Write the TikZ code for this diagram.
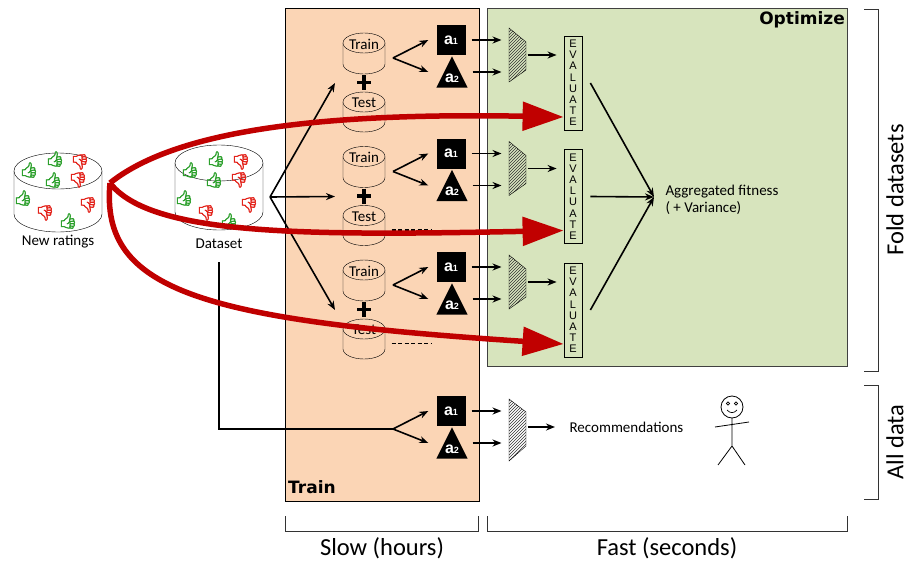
\documentclass[tikz,border=0pt]{standalone}
\usepackage{fontspec}
\setmainfont{Carlito}
\newfontfamily\arialfont{Liberation Sans}
\newfontfamily\heavyfont{DejaVu Sans}
\newfontfamily\emojifont{Noto Emoji}[FakeBold=3]
\usetikzlibrary{arrows.meta, patterns, calc}

\definecolor{trainbg}{HTML}{FBD5B5}
\definecolor{optbg}{HTML}{D7E4BD}
\definecolor{foldred}{HTML}{C00000}
\definecolor{likegreen}{HTML}{2CA02C}
\definecolor{dislikered}{HTML}{E3231B}

\newcommand{\likeicon}{{\emojifont\char"1F44D}}
\newcommand{\dislikeicon}{{\emojifont\char"1F44E}}
\newcommand{\algo}[1]{{\arialfont\bfseries\fontsize{16}{16}\selectfont a\fontsize{9}{9}\selectfont#1}}

% database drum: [fill]{cx}{y of top ellipse}{rx}{ry}{body height}
\newcommand{\drum}[6][white]{%
  \filldraw[fill=#1] ({#2-#4},#3) -- ++(0,#6)
    arc[start angle=180, end angle=360, x radius=#4pt, y radius=#5pt] -- ({#2+#4},#3);
  \filldraw[fill=#1] (#2,#3) ellipse[x radius=#4pt, y radius=#5pt];
}

\tikzset{
  arr/.style={-{Stealth[length=9pt,width=7pt]}, line width=1.6pt},
  foldarrow/.style={draw=foldred, line width=5.5pt, -{Triangle[length=41pt,width=28pt]}},
  algo box/.style={fill=black, text=white, minimum width=29pt, minimum height=30pt, inner sep=0pt},
  algo tri/.style={minimum width=31pt, minimum height=31pt, inner sep=0pt},
  algo text/.style={text=white, inner sep=0pt},
  mixer/.style={draw, pattern=north east lines, pattern color=black!80},
  evalbox/.style={draw, line width=0.8pt, minimum width=18pt, minimum height=94pt,
    inner sep=1pt, align=center, font=\arialfont\fontsize{11}{11.2}\selectfont},
  heading/.style={font=\heavyfont\bfseries\fontsize{17}{18}\selectfont, inner sep=1pt},
  bigtext/.style={font=\fontsize{24.5}{27}\selectfont, inner sep=0pt},
  bracket/.style={draw=black!80, line width=0.9pt},
  likes/.style={text=likegreen, inner sep=0pt, font=\fontsize{15}{15}\selectfont},
  dislikes/.style={text=dislikered, inner sep=0pt, font=\fontsize{15}{15}\selectfont},
  dashline/.style={line width=1.6pt, dash pattern=on 4pt off 2.5pt}
}

\begin{document}
\begin{tikzpicture}[x=1pt, y=-1pt, font=\fontsize{15}{17}\selectfont]
    \useasboundingbox (0,0) rectangle (908,562);

    % Train and Optimize panels
    \draw[fill=trainbg] (285,8) rectangle (479,501);
    \draw[fill=optbg, draw=black!75] (487,8) rectangle (847,366);
    \node[heading, anchor=south west] (trainhd) at (287,495) {Train};
    \node[heading, anchor=north east] (opthd) at (846,10) {Optimize};

    % Input drums with ratings
    \drum{58}{171}{44}{18}{43}
    \drum{219}{163}{44}{18}{49}
    \node (newr) at (58,242) {New ratings};
    \node (dset) at (219,244) {Dataset};
    \foreach \dx/\dy [count=\k] in {-29/170, -3/159, -5/180, -35/198, 10/221} {
        \node[likes] (nr-up\k) at ({58+(\dx)},\dy) {\likeicon};
        \node[likes] (ds-up\k) at ({219+(\dx)},\dy) {\likeicon};
    }
    \foreach \dx/\dy [count=\k] in {22/162, 20/180, -13/213, 30/205} {
        \node[dislikes] (nr-down\k) at ({58+(\dx)},\dy) {\dislikeicon};
        \node[dislikes] (ds-down\k) at ({219+(\dx)},\dy) {\dislikeicon};
    }

    \coordinate (split) at (270,197);
    \coordinate (src) at (110,183);
    \coordinate (agg) at (654,197);

    % One row per fold: train/test split, two algorithms, mixer, evaluation
    \foreach \i/\y in {1/0, 2/113.5, 3/227} {
        \drum[trainbg]{364}{43+\y}{21}{10}{21}
        \drum[trainbg]{364}{102+\y}{21}{10}{20}
        \node (train\i) at (364,44+\y) {Train};
        \node (test\i) at (364,103+\y) {Test};
        \draw[line width=3.5pt] (357,82.5+\y) -- (371,82.5+\y) (364,75+\y) -- (364,90+\y);

        \coordinate (in\i) at (335,83+\y);
        \draw[arr] (split) -- (in\i);

        \coordinate (fork\i) at (393,58+\y);
        \node[algo box] (a1-\i) at (451,40+\y) {\algo{1}};
        \node[algo tri] (a2-\i) at (452,72+\y) {};
        \fill (a2-\i.north) -- (a2-\i.south east) -- (a2-\i.south west) -- cycle;
        \node[algo text] (a2t-\i) at (452,78+\y) {\algo{2}};
        \draw[arr] (fork\i) -- ([xshift=-8pt]a1-\i.west);
        \draw[arr] (fork\i) -- ([xshift=-8pt]a2-\i.west);

        \coordinate (mix\i) at (517.5,55+\y);
        \draw[mixer] ($(mix\i)+(-8.5,-27)$) -- ++(17,14) -- ++(0,28) -- ++(-17,12) -- cycle;
        \node[evalbox] (ev\i) at (573,83+\y) {E\\V\\A\\L\\U\\A\\T\\E};

        \draw[arr] ([xshift=6pt]a1-\i.east) -- ([xshift=-16pt]a1-\i.east -| mix\i);
        \draw[arr] ([xshift=5pt]a2-\i.east) -- ([xshift=-16pt]a2-\i.east -| mix\i);
        \draw[arr] ([xshift=10pt]mix\i) -- ([xshift=-7pt]ev\i.west |- mix\i);
        \draw[arr] ([xshift=8pt]ev\i.east) -- (agg);
    }

    % Test sets left unused in the last folds
    \foreach \i in {2,3}
        \draw[dashline] ([shift={(12pt,-13.5pt)}]test\i.east) -- ++(40,0);

    \node[anchor=west, align=left] (fit) at (662,200) {Aggregated fitness\\( + Variance)};

    % Full data: train once, recommend
    \coordinate (allfork) at (393,429);
    \draw[line width=1.5pt] ([yshift=-10pt]dset.south) |- (allfork);
    \node[algo box] (a1-all) at (451,411) {\algo{1}};
    \node[algo tri] (a2-all) at (452,443) {};
    \fill (a2-all.north) -- (a2-all.south east) -- (a2-all.south west) -- cycle;
    \node[algo text] (a2t-all) at (452,449) {\algo{2}};
    \draw[arr] (allfork) -- ([xshift=-8pt]a1-all.west);
    \draw[arr] (allfork) -- ([xshift=-8pt]a2-all.west);
    \coordinate (mixall) at (517.5,427);
    \draw[mixer] ($(mixall)+(-8.5,-28)$) -- ++(17,13) -- ++(0,34) -- ++(-17,15) -- cycle;
    \draw[arr] ([xshift=6pt]a1-all.east) -- ([xshift=-16pt]a1-all.east -| mixall);
    \draw[arr] ([xshift=5pt]a2-all.east) -- ([xshift=-16pt]a2-all.east -| mixall);
    \node[anchor=west] (rec) at (566,427) {Recommendations};
    \draw[arr] ([xshift=10pt]mixall) -- ([xshift=-11pt]rec.west);

    % User
    \draw[line width=0.8pt] (732,407) circle[radius=11pt];
    \draw[line width=0.6pt] (728,403.5) circle[radius=1.6pt] (736,403.5) circle[radius=1.6pt];
    \draw[line width=0.7pt] (727,410) .. controls (730,413.5) and (734,413.5) .. (737,410);
    \draw[line width=0.8pt] (732,418) -- (732,446) (715,427) -- (749,422)
        (718,465) -- (732,446) -- (745,465);

    % New ratings go to every test set
    \draw[foldarrow] (src) .. controls (170,135) and (300,112) .. ([yshift=-34pt]ev1.west);
    \draw[foldarrow] (src) .. controls (150,235) and (300,236) .. ([yshift=-34pt]ev2.west);
    \draw[foldarrow] (src) .. controls (100,290) and (200,320) .. ([yshift=-34pt]ev3.west);

    % Brackets
    \draw[bracket] (285,516) |- (478,531) -- (478,516);
    \draw[bracket] (487,516) |- (847,531) -- (847,516);
    \node[bigtext] (slow) at (382,548) {Slow (hours)};
    \node[bigtext] (fast) at (667,548) {Fast (seconds)};
    \draw[bracket] (864,9) -| (878,371) -- (864,371);
    \draw[bracket] (864,385) -| (878,499) -- (864,499);
    \node[bigtext, rotate=90] (folds) at (895,190) {Fold datasets};
    \node[bigtext, rotate=90] (alldata) at (895,442) {All data};
\end{tikzpicture}
\end{document}
